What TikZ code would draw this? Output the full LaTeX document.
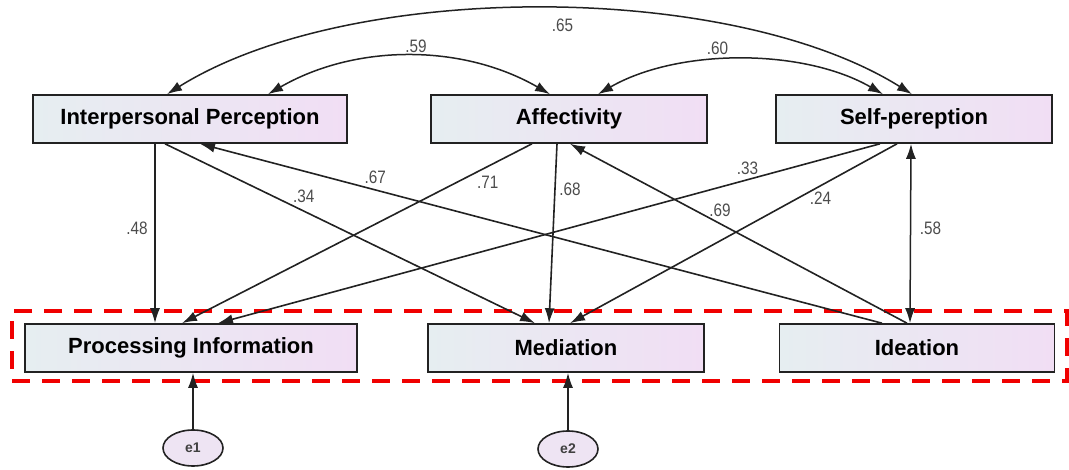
\documentclass[tikz,border=0pt]{standalone}
\usepackage{fontspec}
\setmainfont{Liberation Sans}
\newfontfamily\labelfont[FakeStretch=0.85]{Liberation Sans}
\usetikzlibrary{arrows.meta,fit,shapes.geometric}

\definecolor{boxleft}{HTML}{E6EEF1}
\definecolor{boxright}{HTML}{F1DEF4}
\definecolor{errfill}{HTML}{EEE4F3}
\definecolor{edgegray}{HTML}{222222}
\definecolor{hilite}{HTML}{F00000}

\begin{document}
\begin{tikzpicture}[x=1pt,y=1pt,
    latent/.style={rectangle, draw=edgegray, line width=1.6pt, left color=boxleft, right color=boxright,
        minimum height=48pt, inner sep=0pt, font=\fontsize{22}{24}\selectfont\bfseries},
    err/.style={ellipse, draw=edgegray, line width=1.6pt, fill=errfill, minimum width=60pt,
        minimum height=36pt, inner sep=0pt, text=black!75, font=\fontsize{14}{16}\selectfont\bfseries},
    regr/.style={line width=1.6pt, draw=edgegray, -{Latex[length=15pt,width=10pt]}},
    corr/.style={line width=1.5pt, draw=edgegray, {Latex[length=15pt,width=10pt]}-{Latex[length=15pt,width=10pt]}},
    lbl/.style={font=\labelfont\fontsize{18}{20}\selectfont, text=black!70, inner sep=1.5pt}]

            \useasboundingbox (0,0) rectangle (1069,469);

            \node [latent, minimum width=314pt] (ip) at (190,350) {Interpersonal Perception};
            \node [latent, minimum width=276pt] (af) at (569,350) {Affectivity};
            \node [latent, minimum width=276pt] (sp) at (914,350) {Self-pereption};

            \node [latent, minimum width=332pt] (pi) at (191,121) {Processing Information};
            \node [latent, minimum width=276pt] (me) at (566,121) {Mediation};
            \node [latent, minimum width=275pt] (id) at (917,121) {Ideation};

            \node [err] (e1) at (193,21) {e1};
            \node [err] (e2) at (568,20) {e2};

            \node [draw=hilite, line width=4.5pt, dash pattern=on 18pt off 12pt, fit=(pi)(me)(id),
                inner xsep=12pt, inner ysep=10pt, yshift=2pt] (grp) {};

            \draw[regr] ([xshift=-35pt]ip.south) -- ([xshift=-36pt]pi.north) node [lbl, pos=0.47, left=5pt] {.48};
            \draw[regr] ([xshift=-25pt]ip.south) -- ([xshift=-31pt]me.north) node [lbl, pos=0.34, above right] {.34};
            \draw[regr] ([xshift=-35pt]id.north) -- ([xshift=10pt]ip.south) node [lbl, pos=0.743, above=4pt] {.67};

            \draw[regr] ([xshift=-37pt]af.south) -- ([xshift=-9pt]pi.north) node [lbl, pos=0.215, right=18pt] {.71};
            \draw[regr] ([xshift=-12pt]af.south) -- ([xshift=-17pt]me.north) node [lbl, pos=0.254, right=2pt] {.68};
            \draw[regr] ([xshift=-10pt]id.north) -- ([xshift=1pt]af.south) node [lbl, pos=0.555, above=5pt] {.69};

            \draw[regr] ([xshift=-34pt]sp.south) -- ([xshift=27pt]pi.north) node [lbl, pos=0.2, above=3pt] {.33};
            \draw[regr] ([xshift=-17pt]sp.south) -- ([xshift=4pt]me.north) node [lbl, pos=0.304, right=10pt] {.24};
            \draw[corr] ([xshift=-3pt]sp.south) -- ([xshift=-7pt]id.north) node [lbl, pos=0.47, right=7pt] {.58};

            \draw[corr] ([xshift=-23pt]ip.north) to[out=32, in=148, looseness=0.74] node [lbl, below=8pt, xshift=23pt] {.65} ([xshift=-2pt]sp.north);
            \draw[corr] ([xshift=78pt]ip.north) to[out=30, in=150, looseness=0.92] node [lbl, above=1pt, xshift=7pt] {.59} ([xshift=-19pt]af.north);
            \draw[corr] ([xshift=29pt]af.north) to[out=30, in=150, looseness=0.83] node [lbl, above=3pt, xshift=-23pt] {.60} ([xshift=-31pt]sp.north);

            \draw[regr] (e1) -- ([xshift=2pt]pi.south);
            \draw[regr] (e2) -- ([xshift=2pt]me.south);

        \end{tikzpicture}
\end{document}
